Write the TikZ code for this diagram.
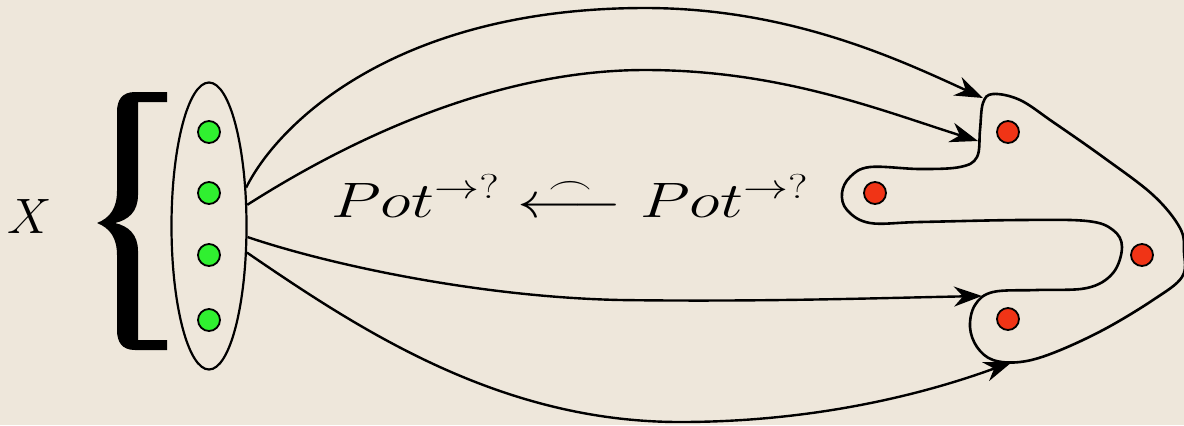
\documentclass[tikz,border=0pt]{standalone}
\usetikzlibrary{shapes.geometric,arrows.meta}
\definecolor{bg}{RGB}{238,231,219}
\definecolor{dotgreen}{RGB}{48,240,48}
\definecolor{dotred}{RGB}{240,52,22}
\begin{document}
\begin{tikzpicture}[
    x=0.5pt, y=-0.5pt,
    dot/.style={circle, draw, line width=0.9pt, minimum size=11pt, inner sep=0pt},
    gdot/.style={dot, fill=dotgreen},
    rdot/.style={dot, fill=dotred},
    fl/.style={-{Stealth[length=14pt, width=10pt, inset=4.5pt]}, line width=1.2pt},
    ln/.style={line width=1.1pt},
    bnd/.style={line width=1.3pt},
    big/.style={font=\fontsize{25}{30}\selectfont}
]

  % ================= 背景 =================
  \useasboundingbox (0,0) rectangle (1184,425);
  \fill[bg] (0,0) rectangle (1184,425);

  % ================= 左侧：集合 X =================
  \node[big] (xlab) at (30,216) {$X$};
  \fill (167,92) -- (167,102) -- (138,102) -- (138,195)
      .. controls (138,212) and (128,220) .. (115,223)
      .. controls (128,226) and (138,234) .. (138,251)
      -- (138,340) -- (167,340) -- (167,350) -- (135,350)
      .. controls (122,350) and (117,342) .. (117,330) -- (117,255)
      .. controls (117,238) and (110,228) .. (97,223)
      .. controls (110,218) and (117,208) .. (117,191) -- (117,112)
      .. controls (117,100) and (122,92) .. (135,92) -- cycle;
  \node[draw, ellipse, ln, minimum width=37.5pt, minimum height=143.5pt,
        inner sep=0pt] (dom) at (209,226) {};
  \node[gdot] (g1) at (209,132) {};
  \node[gdot] (g2) at (209,193) {};
  \node[gdot] (g3) at (209,255) {};
  \node[gdot] (g4) at (209,320) {};

  % ================= 中间公式 =================
  \node[big, anchor=base west, inner sep=0pt] (pot) at (331,217)
      {\scalebox{1.3}[1]{$Pot^{\rightarrow ?}\stackrel{\frown}{\longleftarrow}Pot^{\rightarrow ?}$}};

  % ================= 右侧：区域 =================
  \draw[bnd] plot[smooth cycle, tension=0.6] coordinates {
      (993,94) (1020,100) (1053,122) (1103,157) (1153,195) (1180,228)
      (1184,252) (1182,277) (1153,300) (1103,330) (1053,353) (1020,362)
      (993,360) (977,347) (970,327) (975,305) (993,292) (1037,290)
      (1087,288) (1113,273) (1122,247) (1113,230) (1087,221) (1020,220)
      (920,222) (870,223) (847,210) (842,193) (850,177) (870,167)
      (920,169) (960,167) (977,157) (980,130) (983,103)};
  \node[rdot] (r1) at (1008,132) {};
  \node[rdot] (r2) at (875,193) {};
  \node[rdot] (r3) at (1142,255) {};
  \node[rdot] (r4) at (1008,319) {};
  \coordinate (t1) at (983,98);
  \coordinate (t2) at (978,141);
  \coordinate (t3) at (982,296);
  \coordinate (t4) at (1012,362);

  % ================= 连线 =================
  \draw[fl] (dom.46) .. controls (280,120) and (400,8) .. (645,8)
            .. controls (790,8) and (900,60) .. (t1);
  \draw[fl] (dom.29) .. controls (310,165) and (470,70) .. (645,70)
            .. controls (780,70) and (880,110) .. (t2);
  \draw[fl] (dom.-16) .. controls (330,265) and (480,297) .. (620,300)
            .. controls (760,302) and (880,298) .. (t3);
  \draw[fl] (dom.-35) .. controls (360,330) and (500,422) .. (680,422)
            .. controls (820,422) and (930,392) .. (t4);

\end{tikzpicture}
\end{document}
